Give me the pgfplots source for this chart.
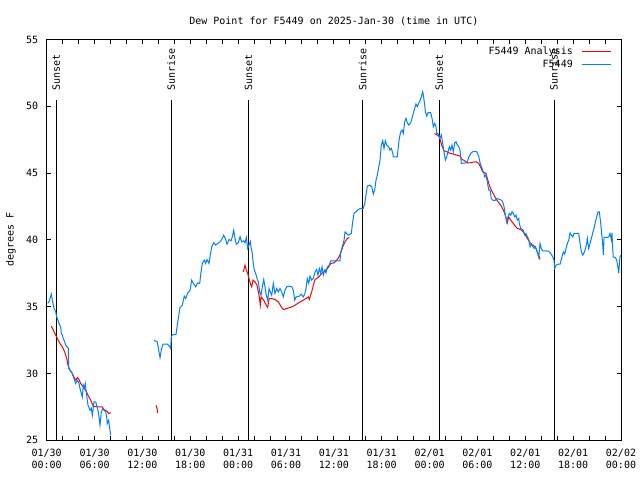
\documentclass[border=0pt]{standalone}
\usepackage{fontspec}
\setmainfont{DejaVu Sans Mono}
\usepackage{pgfplots}
\pgfplotsset{compat=1.18}
\definecolor{gpred}{RGB}{255,0,0}
\definecolor{gpblue}{RGB}{0,128,255}
\begin{document}
\begin{tikzpicture}
\begin{axis}[
  at={(0,0)}, anchor=south west,
  scale only axis, width=574.3pt, height=400.8pt,
  xmin=0, xmax=72, ymin=25, ymax=55,
  xtick={0,6,...,72}, minor x tick num=2,
  ytick={25,30,...,55},
  xticklabels={{01/30\\00:00},{01/30\\06:00},{01/30\\12:00},{01/30\\18:00},{01/31\\00:00},{01/31\\06:00},{01/31\\12:00},{01/31\\18:00},{02/01\\00:00},{02/01\\06:00},{02/01\\12:00},{02/01\\18:00},{02/02\\00:00}},
  xticklabel style={align=center, yshift=-5pt, font=\fontsize{10}{12.7}\selectfont},
  yticklabel style={xshift=-5pt},
  tick align=inside, major tick length=4.5pt, minor tick length=4.5pt,
  tick style={black, line width=1pt},
  axis line style={line width=1pt},
  /pgf/number format/assume math mode=true,
  title={Dew Point for F5449 on 2025-Jan-30 (time in UTC)},
  title style={yshift=4pt},
  ylabel={degrees F},
  ylabel style={at={(axis description cs:-0.0622,0.5)}, anchor=center},
  unbounded coords=jump,
  clip=false,
  legend style={draw=none, fill=none, at={(1,1)}, anchor=north east, xshift=-8pt, yshift=-4pt, row sep=0pt, inner sep=1pt, column sep=7pt},
  legend cell align=right,
  legend plot pos=right,
  legend image code/.code={\draw[#1, line width=1pt] (0pt,0pt) -- (29pt,0pt);},
]
% event lines
\addplot[black, line width=1pt, forget plot] coordinates {(1.2,25) (1.2,50.5)};
\addplot[black, line width=1pt, forget plot] coordinates {(15.6,25) (15.6,50.5)};
\addplot[black, line width=1pt, forget plot] coordinates {(25.3,25) (25.3,50.5)};
\addplot[black, line width=1pt, forget plot] coordinates {(39.6,25) (39.6,50.5)};
\addplot[black, line width=1pt, forget plot] coordinates {(49.2,25) (49.2,50.5)};
\addplot[black, line width=1pt, forget plot] coordinates {(63.6,25) (63.6,50.5)};
\node[rotate=90, anchor=west, inner sep=0pt, xshift=1pt] at (axis cs:1.2,51.1) {Sunset};
\node[rotate=90, anchor=west, inner sep=0pt, xshift=1pt] at (axis cs:15.6,51.1) {Sunrise};
\node[rotate=90, anchor=west, inner sep=0pt, xshift=1pt] at (axis cs:25.3,51.1) {Sunset};
\node[rotate=90, anchor=west, inner sep=0pt, xshift=1pt] at (axis cs:39.6,51.1) {Sunrise};
\node[rotate=90, anchor=west, inner sep=0pt, xshift=1pt] at (axis cs:49.2,51.1) {Sunset};
\node[rotate=90, anchor=west, inner sep=0pt, xshift=1pt] at (axis cs:63.6,51.1) {Sunrise};
% analysis (red)
\addplot[gpred, line width=1pt] coordinates {
(0.58,33.54) (0.83,33.24) (1.13,32.87) (1.33,32.62) (1.67,32.24) (1.96,31.99) (2.26,31.61) (2.51,31.12) (2.67,30.62) (2.92,30.24) (3.21,30.00) (3.51,29.62) (3.67,29.49) (3.84,29.70) (4.05,29.55) (4.26,29.25) (4.59,28.99) (4.89,28.75) (5.18,28.37) (5.52,28.00) (5.84,27.55) (6.34,27.50) (6.97,27.50) (7.18,27.30) (7.52,27.19) (7.81,27.00) (8.02,27.07)
(10,nan)
(13.70,27.62) (13.83,27.40) (13.92,27.04)
(20,nan)
(24.65,37.61) (24.86,38.11) (25.03,37.73) (25.20,37.49) (25.36,37.11) (25.53,36.74) (25.70,36.49) (25.87,36.99) (26.12,36.86) (26.37,36.61) (26.62,35.86) (26.78,35.11) (26.87,35.73) (27.21,35.49) (27.53,35.11) (27.71,34.94) (27.87,35.61) (28.21,35.61) (28.62,35.54) (29.04,35.36) (29.46,34.94) (29.71,34.79) (30.09,34.86) (30.50,34.94) (30.92,35.04) (31.13,35.11) (31.54,35.28) (32.17,35.49) (32.80,35.73) (32.92,35.54) (33.22,36.11) (33.43,36.61) (33.64,37.04) (34.05,37.19) (34.48,37.49) (34.89,37.68) (35.31,37.94) (35.61,38.24) (36.02,38.28) (36.36,38.48) (36.61,38.69) (36.86,39.03) (37.11,39.48) (37.40,39.85) (37.69,40.11) (37.94,40.18)
(43,nan)
(48.62,47.96) (48.97,47.85) (49.22,47.72) (49.40,47.34) (49.56,47.02) (49.81,46.67) (50.15,46.60) (50.56,46.48) (50.98,46.42) (51.40,46.35) (51.82,46.27) (52.07,46.03) (52.41,45.92) (52.73,45.77) (53.07,45.77) (53.49,45.82) (53.82,45.85) (54.16,45.73) (54.41,45.43) (54.66,45.10) (55.08,44.98) (55.24,44.60) (55.49,44.10) (55.74,43.73) (56.08,43.35) (56.42,42.98) (56.75,42.73) (57.00,42.53) (57.25,42.23) (57.50,41.85) (57.75,41.28) (57.92,41.73) (58.18,41.48) (58.50,41.23) (58.75,41.03) (59.00,40.86) (59.43,40.78) (59.75,40.60) (60.01,40.36) (60.26,40.11) (60.60,39.78) (60.93,39.61) (61.26,39.48) (61.51,39.11) (61.85,38.54)
};
\addlegendentry{F5449 Analysis}
% observations (blue)
\addplot[gpblue, line width=1pt] coordinates {
(0.10,35.26) (0.29,35.36) (0.58,35.94) (0.70,35.49) (0.92,34.89) (1.13,34.61) (1.25,34.24) (1.42,33.99) (1.54,33.74) (1.76,33.49) (1.83,32.99) (1.96,32.87) (2.08,32.62) (2.26,32.36) (2.38,32.12) (2.58,31.99) (2.71,31.89) (2.76,30.37) (2.92,30.24) (3.21,30.00) (3.34,29.74) (3.51,29.49) (3.64,29.25) (3.84,29.49) (4.01,29.37) (4.18,28.87) (4.46,28.24) (4.59,29.12) (4.71,28.87) (4.84,29.25) (4.96,28.62) (5.09,28.00) (5.18,27.62) (5.43,27.25) (5.59,27.40) (5.72,26.87) (5.93,27.87) (6.14,27.87) (6.27,27.62) (6.43,27.25) (6.56,26.75) (6.68,26.12) (6.85,27.12) (7.02,27.37) (7.18,27.25) (7.40,27.12) (7.52,26.75) (7.60,26.25) (7.77,26.50) (7.90,25.88) (8.02,25.37)
(10,nan)
(13.45,32.49) (13.87,32.36) (14.08,31.61) (14.21,31.19) (14.37,31.79) (14.58,32.19) (15.12,32.19) (15.46,31.99) (15.55,31.87) (15.62,32.74) (15.80,32.90) (16.21,32.92) (16.37,33.61) (16.50,34.12) (16.71,34.94) (17.00,35.11) (17.25,35.79) (17.43,35.61) (17.68,36.03) (17.97,36.24) (18.18,36.99) (18.38,36.74) (18.68,36.49) (18.93,36.78) (19.18,36.74) (19.35,37.61) (19.51,38.24) (19.76,38.48) (19.93,38.24) (20.10,38.53) (20.35,38.24) (20.51,38.86) (20.69,39.48) (20.94,39.78) (21.19,39.61) (21.44,39.73) (21.73,39.85) (21.94,40.03) (22.19,40.36) (22.44,40.03) (22.61,39.68) (22.86,40.03) (23.11,39.93) (23.27,40.23) (23.45,40.73) (23.61,40.11) (23.77,39.68) (24.02,39.78) (24.24,40.23) (24.45,39.85) (24.70,39.94) (24.86,39.78) (25.03,40.18) (25.20,39.36) (25.36,39.61) (25.53,39.88) (25.61,39.48) (25.78,38.99) (25.87,38.36) (26.03,37.73) (26.20,37.49) (26.37,37.11) (26.53,36.86) (26.71,36.11) (26.87,35.86) (27.03,36.49) (27.21,37.04) (27.37,36.49) (27.53,35.86) (27.71,35.49) (27.87,36.36) (28.03,36.11) (28.21,35.86) (28.41,36.74) (28.62,35.99) (28.84,36.36) (29.04,36.11) (29.25,36.36) (29.46,36.11) (29.66,35.73) (29.88,36.24) (30.09,36.49) (30.38,36.54) (30.72,36.49) (30.92,36.24) (31.09,35.49) (31.26,35.73) (31.67,35.79) (31.92,35.94) (32.17,35.73) (32.38,35.99) (32.51,36.36) (32.67,37.11) (32.85,36.74) (33.01,37.28) (33.22,36.99) (33.43,37.14) (33.64,37.61) (33.85,37.79) (34.01,37.36) (34.18,37.86) (34.35,37.51) (34.52,37.98) (34.68,37.36) (34.85,37.73) (35.02,37.53) (35.18,37.98) (35.43,38.11) (35.61,38.43) (36.77,38.43) (36.86,39.03) (37.11,39.61) (37.28,39.98) (37.40,40.60) (37.61,40.48) (37.81,40.36) (38.03,40.43) (38.19,40.48) (38.36,41.35) (38.53,41.98) (38.78,42.10) (39.07,42.28) (39.37,42.36) (39.69,42.36) (39.87,42.73) (40.03,43.35) (40.20,44.03) (40.53,44.10) (40.75,43.97) (40.95,43.43) (41.12,43.73) (41.29,44.48) (41.45,44.85) (41.63,45.47) (41.79,45.97) (41.95,47.10) (42.13,47.42) (42.29,46.85) (42.45,47.42) (42.63,47.10) (42.88,46.97) (43.04,46.72) (43.20,46.85) (43.38,46.52) (43.45,46.22) (43.96,46.22) (44.08,46.97) (44.21,47.60) (44.38,48.09) (44.55,48.22) (44.71,47.97) (44.88,48.84) (45.05,49.10) (45.21,48.77) (45.39,48.60) (45.64,48.77) (45.80,49.10) (45.96,49.47) (46.14,49.85) (46.30,50.17) (46.46,49.97) (46.64,50.22) (46.80,50.42) (46.97,50.72) (47.14,51.09) (47.22,50.84) (47.39,50.09) (47.47,49.59) (47.64,49.27) (47.81,49.52) (48.14,49.52) (48.31,49.10) (48.47,48.47) (48.65,48.72) (48.81,48.47) (48.90,47.97) (49.06,47.97) (49.31,47.60) (49.47,47.85) (49.65,47.22) (49.81,46.60) (49.98,45.97) (50.15,46.22) (50.31,46.60) (50.48,46.97) (50.65,46.72) (50.81,47.10) (50.98,46.60) (51.15,47.27) (51.32,47.34) (51.48,47.10) (51.66,46.97) (51.82,46.72) (51.98,45.73) (52.66,45.77) (52.91,46.18) (53.16,46.48) (53.49,46.63) (53.91,46.60) (54.16,46.27) (54.33,45.77) (54.66,45.22) (54.83,44.98) (54.92,44.72) (55.08,44.85) (55.24,44.35) (55.42,43.73) (55.58,43.73) (55.74,43.10) (55.92,42.98) (56.17,42.93) (56.42,43.10) (56.75,43.03) (57.00,42.98) (57.17,42.85) (57.34,42.48) (57.50,41.85) (57.67,41.35) (57.84,41.73) (58.00,41.98) (58.18,41.85) (58.34,42.10) (58.50,41.98) (58.68,41.73) (58.84,41.85) (59.00,41.48) (59.18,41.61) (59.25,41.23) (59.43,40.86) (59.59,40.78) (59.75,40.73) (59.93,40.36) (60.09,40.48) (60.26,40.23) (60.43,40.03) (60.60,39.48) (60.76,39.68) (60.93,39.53) (61.10,39.36) (61.26,39.48) (61.43,39.23) (61.69,38.69) (61.85,39.73) (62.01,39.36) (62.19,39.18) (62.48,39.18) (62.89,39.16) (63.19,38.99) (63.44,38.73) (63.60,38.48) (63.69,37.86) (63.85,38.11) (64.14,38.18) (64.36,38.18) (64.77,39.11) (64.95,38.93) (65.11,39.36) (65.27,39.73) (65.45,39.98) (65.61,40.53) (65.77,40.36) (65.95,40.23) (66.11,40.48) (66.70,40.48) (66.87,39.73) (67.03,39.11) (67.20,38.86) (67.36,39.03) (67.52,39.28) (67.70,39.73) (67.78,40.11) (67.95,39.36) (68.12,39.73) (68.28,40.11) (68.46,40.53) (68.62,40.86) (68.78,41.35) (68.96,41.73) (69.12,42.10) (69.28,42.10) (69.46,41.23) (69.62,40.23) (69.71,39.61) (69.79,38.86) (69.87,40.18) (70.21,40.18) (70.46,40.23) (70.62,40.48) (70.79,40.03) (70.87,40.53) (70.96,39.36) (71.03,38.73) (71.28,38.69) (71.46,38.48) (71.62,37.94) (71.71,37.49) (71.87,38.73) (72.00,38.86)
};
\addlegendentry{F5449}
\end{axis}
\pgfresetboundingbox
\path[use as bounding box] (-46.7pt,-39.7pt) rectangle (593.3pt,440.3pt);
\end{tikzpicture}
\end{document}
